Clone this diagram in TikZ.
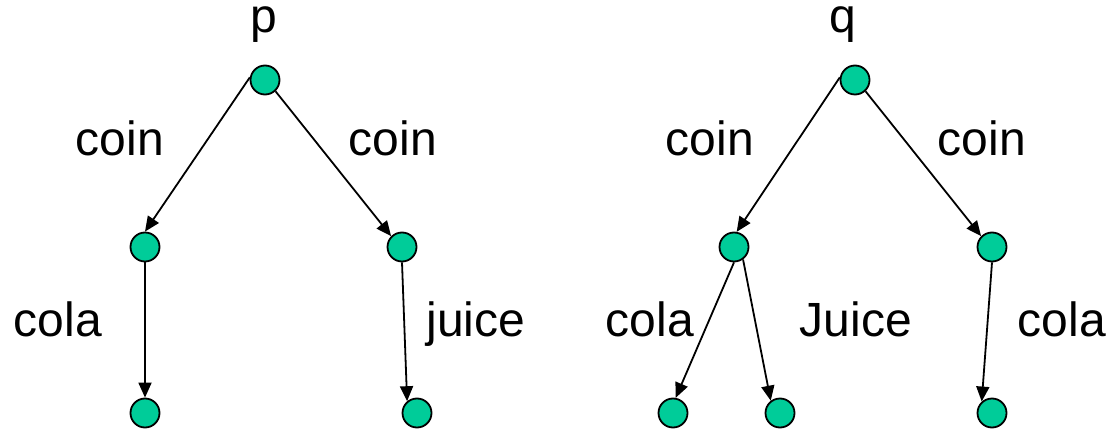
\documentclass[tikz,border=0pt]{standalone}
\usepackage{fontspec}
\setmainfont{Liberation Sans}
\usetikzlibrary{arrows.meta}
\begin{document}
\begin{tikzpicture}[x=1pt,y=-1pt,
  st/.style={circle,draw=black,line width=1.8pt,fill=stfill,minimum size=29pt,inner sep=0pt},
  lbl/.style={anchor=base,inner sep=0pt,font=\fontsize{48}{58}\selectfont},
  tr/.style={line width=1.8pt,-{Triangle[length=15pt,width=13pt]}}]
\definecolor{stfill}{RGB}{0,204,153}
\useasboundingbox (0,0) rectangle (1110,430);
% tree p
\node[st] (p) at (265,80) {};
\node[st] (pL) at (145,247) {};
\node[st] (pR) at (402,247) {};
\node[st] (pLL) at (145,413) {};
\node[st] (pRR) at (417,413) {};
% tree q
\node[st] (q) at (855,80) {};
\node[st] (qL) at (734,247) {};
\node[st] (qR) at (992,247) {};
\node[st] (qLL) at (673,413) {};
\node[st] (qLR) at (780,413) {};
\node[st] (qRR) at (992,413) {};
% labels
\node[lbl] (lp) at (264,33) {p};
\node[lbl] (lq) at (843,33) {q};
\node[lbl] (c1) at (120,156) {coin};
\node[lbl] (c2) at (393,156) {coin};
\node[lbl] (c3) at (710,156) {coin};
\node[lbl] (c4) at (982,156) {coin};
\node[lbl] (k1) at (58,336) {cola};
\node[lbl] (j1) at (476,336) {juice};
\node[lbl] (k2) at (650,336) {cola};
\node[lbl] (j2) at (856,336) {Juice};
\node[lbl] (k3) at (1062,336) {cola};
% edges
\draw[tr] (p.170) -- (pL.90);
\draw[tr] (p.-47) -- (pR.135);
\draw[tr] (pL.-90) -- (pLL.90);
\draw[tr] (pR.-90) -- (pRR.130);
\draw[tr] (q.170) -- (qL.80);
\draw[tr] (q.-47) -- (qR.135);
\draw[tr] (qL.-90) -- (qLL.80);
\draw[tr] (qL.-54) -- (qLR.127);
\draw[tr] (qR.-90) -- (qRR.132);
\end{tikzpicture}
\end{document}
